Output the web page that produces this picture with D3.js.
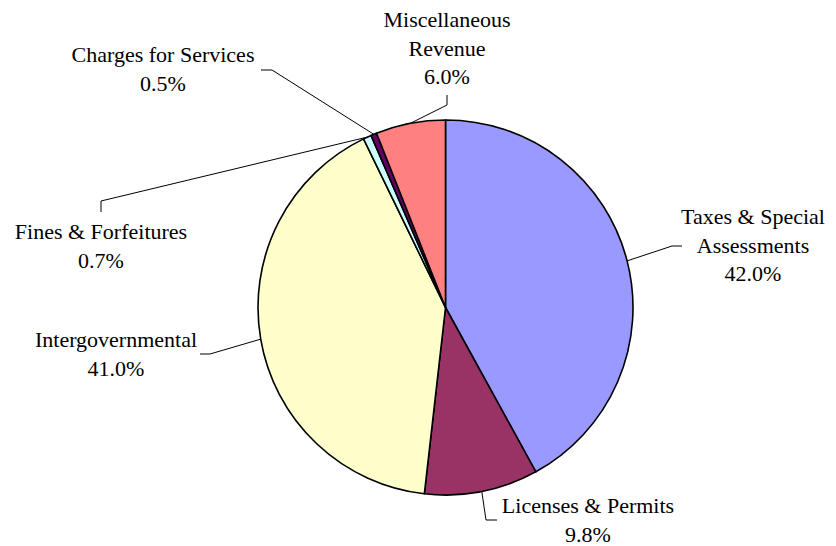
<!DOCTYPE html>
<html lang="en">
    <head>
        <meta charset="utf-8">
        <title>Revenue Pie</title>
        <script src="https://cdn.jsdelivr.net/npm/d3@7"></script>
        <style>
            body { margin: 0; background: #fff; }
            text { font-family: "Liberation Serif", "Times New Roman", serif; font-size: 22px; fill: #000; }
        </style>
    </head>
    <body>
        <script>
            // slice data, clockwise from 12 o'clock
            var categories = ["Taxes & Special Assessments", "Licenses & Permits", "Intergovernmental",
                              "Fines & Forfeitures", "Charges for Services", "Miscellaneous Revenue"];
            var values = [42.0, 9.8, 41.0, 0.7, 0.5, 6.0];
            var labelLines = [["Taxes & Special", "Assessments"], ["Licenses & Permits"], ["Intergovernmental"],
                              ["Fines & Forfeitures"], ["Charges for Services"], ["Miscellaneous", "Revenue"]];
            var colors = ["#9999FF", "#993366", "#FFFFCC", "#CCFFFF", "#660066", "#FF8080"];

            var w = 836, h = 546;
            var cx = 445.5, cy = 307.5, r = 187.5;
            var lineH = 28.7;

            // label placement: text centre x, first baseline y, leader elbow points
            var layout = [
                { x: 753, y: 224, elbow: [[672, 246], [682, 246]] },
                { x: 588, y: 513, elbow: [[486, 520], [497, 520]] },
                { x: 116, y: 347, elbow: [[210, 354], [200, 354]] },
                { x: 101, y: 239, elbow: [[101, 201], [101, 212]] },
                { x: 163, y: 62, elbow: [[272, 70], [261, 70]] },
                { x: 447, y: 27, elbow: [[447, 105], [447, 95]] }
            ];

            var svg = d3.select("body").append("svg")
                .attr("width", w)
                .attr("height", h);

            var pie = d3.pie().sort(null).value(function(d) { return d; });
            var arcs = pie(values);
            var arc = d3.arc().innerRadius(0).outerRadius(r);
            var edge = d3.arc().innerRadius(r).outerRadius(r);

            var g = svg.append("g").attr("transform", "translate(" + cx + "," + cy + ")");

            g.selectAll("path.slice")
                .data(arcs)
                .enter()
                .append("path")
                .attr("class", "slice")
                .attr("d", arc)
                .attr("fill", function(d, i) { return colors[i]; })
                .attr("stroke", "#000")
                .attr("stroke-width", 1.6)
                .attr("stroke-linejoin", "round");

            // leader lines
            var line = d3.line();
            svg.selectAll("path.leader")
                .data(arcs)
                .enter()
                .append("path")
                .attr("class", "leader")
                .attr("d", function(d, i) {
                    var c = edge.centroid(d);
                    var pts = [[cx + c[0], cy + c[1]]].concat(layout[i].elbow);
                    return line(pts);
                })
                .attr("fill", "none")
                .attr("stroke", "#000")
                .attr("stroke-width", 1);

            var fmt = d3.format(".1f");
            var labels = svg.selectAll("text.lab")
                .data(arcs)
                .enter()
                .append("text")
                .attr("class", "lab")
                .attr("text-anchor", "middle");

            labels.each(function(d, i) {
                var t = d3.select(this);
                var lines = labelLines[i].concat([fmt(values[i]) + "%"]);
                lines.forEach(function(s, k) {
                    t.append("tspan")
                        .attr("x", layout[i].x)
                        .attr("y", layout[i].y + k * lineH)
                        .text(s);
                });
            });
        </script>
    </body>
</html>
